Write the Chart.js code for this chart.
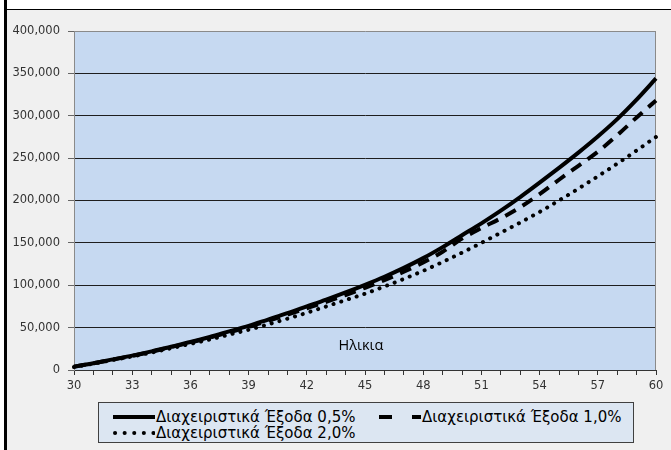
<!DOCTYPE html>
<html>
<head>
<meta charset="utf-8">
<script src="https://cdn.jsdelivr.net/npm/chart.js@4/dist/chart.umd.min.js"></script>
<style>
  html, body { margin: 0; padding: 0; background: #fff; }
  #frame { position: absolute; left: 0; top: 0; width: 671px; height: 450px; overflow: hidden; background: #fff; }
  #edge { position: absolute; left: 4px; top: 0; width: 3px; height: 450px; background: #000; }
  #panel { position: absolute; left: 7px; top: 9px; right: 0; bottom: 0; background: #f0f0f0; border-top: 1px solid #000; }
  #chart { position: absolute; left: 0; top: 0; }
  #legend { position: absolute; left: 98px; top: 402px; width: 536px; height: 41px; box-sizing: border-box;
            background: #dce6f2; border: 1px solid #404040; }
  .item { position: absolute; display: flex; align-items: center; height: 17px;
          font-family: "DejaVu Sans", Verdana, sans-serif; font-size: 15px; color: #000; white-space: nowrap; }
  .item svg { display: block; margin-right: 1px; }
</style>
</head>
<body>
<div id="frame">
  <div id="edge"></div>
  <div id="panel"></div>
  <canvas id="chart" width="671" height="450"></canvas>
  <div id="legend"></div>
</div>
<script>
// Ages on the horizontal axis
const ages = [30, 31, 32, 33, 34, 35, 36, 37, 38, 39, 40, 41, 42, 43, 44, 45,
              46, 47, 48, 49, 50, 51, 52, 53, 54, 55, 56, 57, 58, 59, 60];

// Series names
const seriesNames = ['Διαχειριστικά Έξοδα 0,5%', 'Διαχειριστικά Έξοδα 1,0%', 'Διαχειριστικά Έξοδα 2,0%'];

// Accumulated capital per age, one list per management fee
const fee05 = [4000, 8000, 12500, 17000, 22000, 27500, 33000, 39000, 45500, 52000, 59500,
               67000, 75000, 83000, 91500, 100500, 110000, 120500, 132000, 145000, 159000,
               173000, 188000, 204000, 221000, 238500, 256500, 275500, 296000, 319000, 344000];
const fee10 = [4000, 7900, 12300, 16700, 21600, 27000, 32400, 38200, 44500, 50800, 58000,
               65200, 72800, 80500, 88500, 97000, 106000, 116000, 127000, 139500, 155000,
               167500, 179000, 192000, 207500, 224500, 241000, 257500, 277000, 298000, 318000];
const fee20 = [3500, 7600, 11800, 16000, 20600, 25600, 30800, 36000, 41700, 47500, 53800,
               60500, 67500, 75000, 82500, 90000, 98500, 107500, 117000, 127500, 138500,
               150000, 162000, 174000, 186500, 200000, 214000, 228500, 243500, 259000, 275000];

// Value axis range
const yMin = 0, yMax = 400000, yStep = 50000;
const xTitle = 'Ηλικια';

// Line looks: canvas dash for the plot, SVG dash for the legend sample
const lineStyles = [
  { dash: [], cap: 'butt', svgDash: '' },
  { dash: [12, 8], cap: 'butt', svgDash: '13 20' },
  { dash: [0.1, 8], cap: 'round', svgDash: '0.1 9.5' }
];
const seriesData = [fee05, fee10, fee20];

const plotBackground = {
  id: 'plotBackground',
  beforeDraw(chart) {
    const { ctx, chartArea: a } = chart;
    ctx.save();
    ctx.fillStyle = '#c6d9f1';
    ctx.fillRect(a.left, a.top, a.right - a.left, a.bottom - a.top);
    ctx.restore();
  },
  beforeDatasetsDraw(chart) {
    const { ctx, chartArea: a } = chart;
    ctx.save();
    ctx.strokeStyle = '#8a8a8a';
    ctx.lineWidth = 1;
    ctx.beginPath();
    ctx.moveTo(Math.round(a.right) - 0.5, a.top);
    ctx.lineTo(Math.round(a.right) - 0.5, a.bottom);
    ctx.stroke();
    ctx.fillStyle = '#000';
    ctx.font = '14.5px "Open Sans", sans-serif';
    ctx.textAlign = 'center';
    ctx.textBaseline = 'middle';
    ctx.fillText(xTitle, (a.left + a.right) / 2 - 4, a.bottom - 24);
    ctx.restore();
  }
};

const tickFont = { family: '"DejaVu Sans", Verdana, sans-serif', size: 11.5 };

new Chart(document.getElementById('chart'), {
  type: 'line',
  data: {
    labels: ages,
    datasets: seriesData.map((d, i) => ({
      label: seriesNames[i],
      data: d,
      borderColor: '#000',
      backgroundColor: '#000',
      borderWidth: 4,
      borderDash: lineStyles[i].dash,
      borderCapStyle: lineStyles[i].cap,
      pointRadius: 0,
      cubicInterpolationMode: 'monotone',
      fill: false
    }))
  },
  options: {
    responsive: false,
    animation: false,
    layout: { padding: { left: 0, right: 15, top: 31, bottom: 50 } },
    plugins: { legend: { display: false }, tooltip: { enabled: false } },
    scales: {
      x: {
        type: 'category',
        offset: false,
        grid: { drawOnChartArea: false, drawTicks: true, tickLength: 5, color: '#333' },
        border: { color: '#333', width: 1 },
        ticks: {
          autoSkip: false, maxRotation: 0, padding: 4, color: '#333', font: tickFont,
          callback(v, i) { const a = ages[i]; return (a - ages[0]) % 3 === 0 ? String(a) : ''; }
        },
        afterFit(scale) { scale.height = 30; }
      },
      y: {
        min: yMin, max: yMax,
        grid: {
          tickLength: 6,
          color: (c) => (c.tick && c.tick.value === yMax ? '#8a8a8a' : '#1e1e1e'),
          tickColor: '#666'
        },
        border: { color: '#8a8a8a', width: 1 },
        ticks: {
          stepSize: yStep, padding: 8, color: '#333', font: tickFont,
          callback: (v) => v.toLocaleString('en-US')
        },
        afterFit(scale) { scale.width = 74; }
      }
    }
  },
  plugins: [plotBackground]
});

// Legend: two columns, filled row by row
const legend = document.getElementById('legend');
const colX = [14, 280];
const rowY = [5, 21];
seriesNames.forEach((name, i) => {
  const item = document.createElement('div');
  item.className = 'item';
  item.style.left = colX[i % 2] + 'px';
  item.style.top = rowY[Math.floor(i / 2)] + 'px';
  const st = lineStyles[i];
  item.innerHTML =
    '<svg width="42" height="8"><line x1="' + (st.cap === 'round' ? 2 : 0) + '" y1="4" x2="42" y2="4" stroke="#000" stroke-width="4"' +
    (st.svgDash ? ' stroke-dasharray="' + st.svgDash + '"' : '') +
    ' stroke-linecap="' + st.cap + '"/></svg>';
  const span = document.createElement('span');
  span.textContent = name;
  item.appendChild(span);
  legend.appendChild(item);
});
</script>
</body>
</html>
